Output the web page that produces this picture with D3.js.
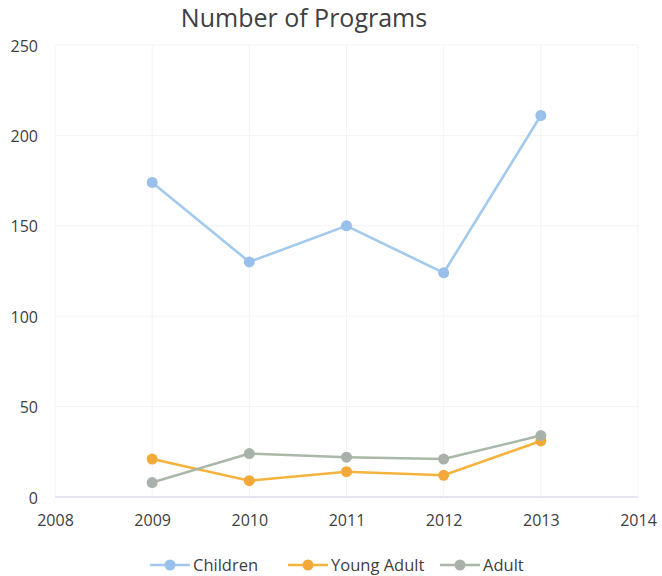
<!DOCTYPE html>
<html><head><meta charset="utf-8">
<script src="https://cdn.jsdelivr.net/npm/d3@7"></script>
<style>body{margin:0;background:#fff;font-family:"Open Sans","Liberation Sans",sans-serif;}</style>
</head><body><svg id="c" width="662" height="576"></svg>
<script>
const years = [2009, 2010, 2011, 2012, 2013];
const children = [174, 130, 150, 124, 211];
const youngAdult = [21, 9, 14, 12, 31];
const adult = [8, 24, 22, 21, 34];
const xTicks = [2008, 2009, 2010, 2011, 2012, 2013, 2014];
const yTicks = [0, 50, 100, 150, 200, 250];
const seriesNames = ["Children", "Young Adult", "Adult"];
const seriesColors = ["#a3c9ee", "#f5b23c", "#a9b8a8"];
const markerColors = ["#98c0ea", "#f2a93a", "#a8b2aa"];

const svg = d3.select("#c");
const m = {l: 55, r: 24, t: 45, b: 79};
const W = 662, H = 576;
const x = d3.scaleLinear().domain([2008, 2014]).range([m.l, W - m.r]);
const y = d3.scaleLinear().domain([0, 250]).range([H - m.b, m.t]);

// gridlines
svg.append("g").selectAll("line").data(yTicks).join("line")
  .attr("x1", x(2008)).attr("x2", x(2014)).attr("y1", d => y(d)).attr("y2", d => y(d))
  .attr("stroke", d => d === 0 ? "#dcd8ee" : "#f3f3f6").attr("stroke-width", d => d === 0 ? 1.5 : 1);
svg.append("g").selectAll("line").data(xTicks).join("line")
  .attr("x1", d => x(d)).attr("x2", d => x(d)).attr("y1", y(0)).attr("y2", y(250))
  .attr("stroke", "#f3f3f6").attr("stroke-width", 1);

// axes labels
const yAxis = d3.axisLeft(y).tickValues(yTicks).tickSize(0).tickPadding(17);
const gy = svg.append("g").attr("transform", `translate(${m.l},1)`).call(yAxis);
gy.select(".domain").remove();
gy.selectAll("text").attr("font-size", 16).attr("fill", "#404040").attr("font-family", "Open Sans, sans-serif");

const xAxis = d3.axisBottom(x).tickValues(xTicks).tickFormat(d3.format("d")).tickSize(0).tickPadding(18);
const gx = svg.append("g").attr("transform", `translate(0,${y(0)})`).call(xAxis);
gx.select(".domain").remove();
gx.selectAll("text").attr("font-size", 16).attr("fill", "#404040").attr("font-family", "Open Sans, sans-serif");

// series
const data = [children, youngAdult, adult];
const line = d3.line().x((d, i) => x(years[i])).y(d => y(d));
data.forEach((vals, s) => {
  svg.append("path").datum(vals).attr("d", line)
    .attr("fill", "none").attr("stroke", seriesColors[s]).attr("stroke-width", 2.6);
  svg.append("g").selectAll("circle").data(vals).join("circle")
    .attr("cx", (d, i) => x(years[i])).attr("cy", d => y(d)).attr("r", 5.5)
    .attr("fill", markerColors[s]);
});

// title
svg.append("text").attr("x", 304).attr("y", 27).attr("text-anchor", "middle")
  .attr("font-size", 25).attr("fill", "#404040").text("Number of Programs");

// legend
const legX = [150, 288, 440];
seriesNames.forEach((n, s) => {
  const g = svg.append("g").attr("transform", `translate(${legX[s]},565)`);
  g.append("line").attr("x1", 0).attr("x2", 40).attr("y1", 0).attr("y2", 0)
    .attr("stroke", seriesColors[s]).attr("stroke-width", 2.6);
  g.append("circle").attr("cx", 20).attr("cy", 0).attr("r", 5.5).attr("fill", markerColors[s]);
  g.append("text").attr("x", 43).attr("y", 6).attr("font-size", 16.5).attr("fill", "#404040").text(n);
});
</script></body></html>
